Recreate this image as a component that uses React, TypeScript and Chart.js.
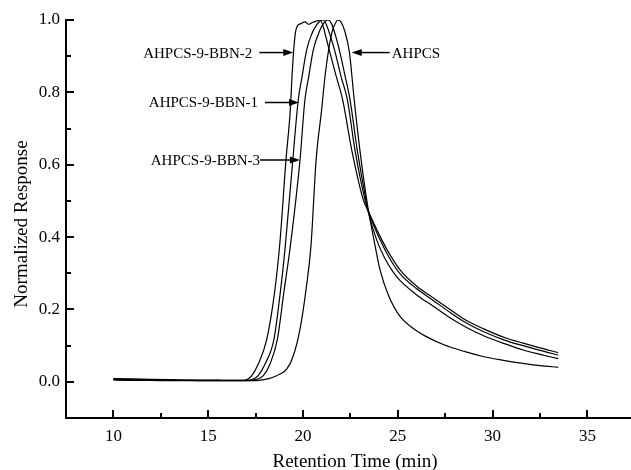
import React, { useEffect, useRef } from "react";
import { Chart, registerables } from "chart.js";

Chart.register(...registerables);

// ---- data ----
const AHPCS_T = [10, 11, 12, 13, 14, 15, 16, 17, 17.64, 18.2, 18.61, 19.14, 19.49, 19.84, 20.16, 20.42, 20.69, 20.98, 21.16, 21.35, 21.55, 21.75, 21.86, 22.0, 22.2, 22.45, 22.7, 23.0, 23.36, 23.74, 24.06, 24.5, 25.1, 25.8, 26.43, 27.4, 28.5, 29.5, 30.5, 31.6, 32.5, 33.46];
const AHPCS_R = [0.006, 0.005, 0.005, 0.004, 0.004, 0.003, 0.003, 0.003, 0.004, 0.009, 0.017, 0.035, 0.072, 0.145, 0.255, 0.375, 0.612, 0.751, 0.843, 0.917, 0.97, 0.995, 1.0, 0.995, 0.97, 0.91, 0.78, 0.641, 0.503, 0.393, 0.31, 0.24, 0.182, 0.148, 0.127, 0.103, 0.084, 0.07, 0.06, 0.051, 0.045, 0.04];

const BBN2_T = [10, 11, 12, 13, 14, 15, 16, 16.8, 17.1, 17.3, 17.64, 18.09, 18.52, 18.79, 19.1, 19.33, 19.42, 19.5, 19.6, 19.72, 19.9, 20.1, 20.3, 20.5, 20.7, 20.9, 21.05, 21.2, 21.42, 21.75, 22.09, 22.57, 23.18, 23.44, 24.15, 24.6, 25.15, 26.0, 26.87, 27.75, 28.6, 29.5, 30.7, 31.61, 32.5, 33.46];
const BBN2_R = [0.009, 0.008, 0.007, 0.006, 0.005, 0.005, 0.004, 0.004, 0.008, 0.017, 0.049, 0.118, 0.255, 0.39, 0.612, 0.751, 0.843, 0.91, 0.965, 0.985, 0.99, 0.995, 0.988, 0.993, 0.997, 1.0, 0.985, 0.955, 0.91, 0.845, 0.78, 0.641, 0.503, 0.472, 0.393, 0.35, 0.307, 0.264, 0.232, 0.2, 0.17, 0.147, 0.121, 0.107, 0.094, 0.081];

const BBN1_T = [10, 11, 12, 13, 14, 15, 16, 17, 17.35, 17.64, 18.0, 18.47, 18.82, 19.05, 19.46, 19.75, 19.95, 20.19, 20.45, 20.7, 20.9, 21.07, 21.25, 21.45, 21.7, 22.0, 22.34, 22.74, 23.27, 23.44, 24.06, 24.55, 25.1, 26.0, 26.87, 27.75, 28.6, 29.5, 30.7, 31.61, 32.5, 33.46];
const BBN1_R = [0.007, 0.006, 0.006, 0.005, 0.004, 0.004, 0.004, 0.004, 0.007, 0.017, 0.049, 0.118, 0.255, 0.366, 0.612, 0.779, 0.843, 0.917, 0.96, 0.985, 0.997, 1.0, 0.985, 0.955, 0.91, 0.845, 0.78, 0.641, 0.503, 0.472, 0.393, 0.343, 0.3, 0.257, 0.225, 0.192, 0.163, 0.139, 0.114, 0.1, 0.087, 0.074];

const BBN3_T = [10, 11, 12, 13, 14, 15, 16, 17, 17.5, 17.91, 18.26, 18.65, 19.01, 19.31, 19.84, 20.1, 20.3, 20.54, 20.8, 21.05, 21.33, 21.5, 21.7, 21.95, 22.2, 22.48, 22.86, 23.32, 23.44, 23.88, 24.3, 24.76, 25.1, 26.0, 26.87, 27.75, 28.6, 29.5, 30.7, 31.61, 32.5, 33.46];
const BBN3_R = [0.005, 0.004, 0.004, 0.003, 0.003, 0.003, 0.003, 0.003, 0.006, 0.017, 0.049, 0.118, 0.255, 0.366, 0.612, 0.779, 0.843, 0.917, 0.96, 0.988, 1.0, 0.99, 0.96, 0.91, 0.85, 0.78, 0.641, 0.503, 0.47, 0.393, 0.343, 0.303, 0.281, 0.24, 0.209, 0.177, 0.151, 0.128, 0.104, 0.088, 0.076, 0.064];

const SERIES_NAMES = ["AHPCS", "AHPCS-9-BBN-2", "AHPCS-9-BBN-1", "AHPCS-9-BBN-3"];

const X_TICKS = [10, 15, 20, 25, 30, 35];
const X_MINOR = [12.5, 17.5, 22.5, 27.5, 32.5];
const Y_TICKS = [0.0, 0.2, 0.4, 0.6, 0.8, 1.0];
const Y_MINOR = [0.1, 0.3, 0.5, 0.7, 0.9];

// arrow tips (data coords) for the annotation labels
const LABEL_TIP_X = [22.57, 19.49, 19.79, 19.84];
const LABEL_TIP_Y = [0.91, 0.91, 0.772, 0.613];

const X_TITLE = "Retention Time (min)";
const Y_TITLE = "Normalized Response";

const FONT = "Liberation Serif";

function toPoints(t: number[], r: number[]) {
  return t.map((x, i) => ({ x, y: r[i] }));
}

const decorPlugin = {
  id: "decor",
  afterDraw(chart: any) {
    const ctx = chart.ctx;
    const xs = chart.scales.x;
    const ys = chart.scales.y;
    const area = chart.chartArea;
    ctx.save();
    ctx.strokeStyle = "#000";
    ctx.fillStyle = "#000";
    // inward tick marks
    ctx.lineWidth = 2;
    const xt = (v: number, len: number) => {
      const px = Math.round(xs.getPixelForValue(v));
      ctx.beginPath();
      ctx.moveTo(px, area.bottom);
      ctx.lineTo(px, area.bottom - len);
      ctx.stroke();
    };
    X_TICKS.forEach((v) => xt(v, 8));
    X_MINOR.forEach((v) => xt(v, 5));
    const yt = (v: number, len: number) => {
      const py = Math.round(ys.getPixelForValue(v));
      ctx.beginPath();
      ctx.moveTo(area.left, py);
      ctx.lineTo(area.left + len, py);
      ctx.stroke();
    };
    Y_TICKS.forEach((v) => yt(v, 8));
    Y_MINOR.forEach((v) => yt(v, 5));

    // axis titles
    ctx.font = `19px "${FONT}"`;
    ctx.textAlign = "center";
    ctx.textBaseline = "alphabetic";
    ctx.fillText(X_TITLE, 355, 467);
    ctx.save();
    ctx.translate(27, (area.top + area.bottom) / 2 + 5);
    ctx.rotate(-Math.PI / 2);
    ctx.fillText(Y_TITLE, 0, 0);
    ctx.restore();

    // annotation labels with arrows
    ctx.font = `15px "${FONT}"`;
    ctx.textBaseline = "middle";
    ctx.lineWidth = 1.5;
    const arrow = (tipX: number, tipY: number, tailX: number) => {
      const dir = tailX < tipX ? 1 : -1;
      ctx.beginPath();
      ctx.moveTo(tailX, tipY);
      ctx.lineTo(tipX - dir * 8, tipY);
      ctx.stroke();
      ctx.beginPath();
      ctx.moveTo(tipX, tipY);
      ctx.lineTo(tipX - dir * 10, tipY - 3.5);
      ctx.lineTo(tipX - dir * 10, tipY + 3.5);
      ctx.closePath();
      ctx.fill();
    };
    SERIES_NAMES.forEach((name, i) => {
      const tx = xs.getPixelForValue(LABEL_TIP_X[i]);
      const ty = ys.getPixelForValue(LABEL_TIP_Y[i]);
      if (i === 0) {
        arrow(tx, ty, tx + 38);
        ctx.textAlign = "left";
        ctx.fillText(name, tx + 40, ty + 1);
      } else {
        const tail = i === 3 ? tx - 40 : tx - 34;
        arrow(tx, ty, tail);
        ctx.textAlign = "right";
        ctx.fillText(name, tail - (i === 3 ? 0 : 7), ty + 1);
      }
    });
    ctx.restore();
  },
};

export default function App() {
  const ref = useRef<HTMLCanvasElement | null>(null);
  useEffect(() => {
    document.body.style.margin = "0";
    const canvas = ref.current;
    if (!canvas) return;
    const mk = (label: string, t: number[], r: number[]) => ({
      label,
      data: toPoints(t, r),
      borderColor: "#000",
      backgroundColor: "#000",
      borderWidth: 1.2,
      pointRadius: 0,
      fill: false,
      cubicInterpolationMode: "monotone" as const,
    });
    const chart = new Chart(canvas, {
      type: "line",
      data: {
        datasets: [
          mk(SERIES_NAMES[0], AHPCS_T, AHPCS_R),
          mk(SERIES_NAMES[1], BBN2_T, BBN2_R),
          mk(SERIES_NAMES[2], BBN1_T, BBN1_R),
          mk(SERIES_NAMES[3], BBN3_T, BBN3_R),
        ],
      },
      options: {
        animation: false,
        responsive: false,
        layout: { padding: { top: 20, right: 0, left: 0, bottom: 0 } },
        plugins: { legend: { display: false }, tooltip: { enabled: false } },
        scales: {
          x: {
            type: "linear",
            min: 7.5,
            max: 37.3,
            afterBuildTicks: (s: any) => {
              s.ticks = X_TICKS.map((v) => ({ value: v }));
            },
            afterFit: (s: any) => {
              s.height = 52;
            },
            ticks: {
              color: "#000",
              font: { family: FONT, size: 17 },
              padding: 8,
              autoSkip: false,
              maxRotation: 0,
              callback: (v: any) => String(v),
            },
            grid: { display: false, drawTicks: false },
            border: { display: true, color: "#000", width: 2 },
          },
          y: {
            type: "linear",
            min: -0.1,
            max: 1.0,
            afterBuildTicks: (s: any) => {
              s.ticks = Y_TICKS.map((v) => ({ value: v }));
            },
            afterFit: (s: any) => {
              s.width = 66;
            },
            ticks: {
              color: "#000",
              font: { family: FONT, size: 17 },
              padding: 6,
              autoSkip: false,
              callback: (v: any) => Number(v).toFixed(1),
            },
            grid: { display: false, drawTicks: false },
            border: { display: true, color: "#000", width: 2 },
          },
        },
      },
      plugins: [decorPlugin],
    });
    return () => chart.destroy();
  }, []);
  return (
    <div style={{ width: 631, height: 470 }}>
      <canvas ref={ref} width={631} height={470} style={{ display: "block" }} />
    </div>
  );
}
